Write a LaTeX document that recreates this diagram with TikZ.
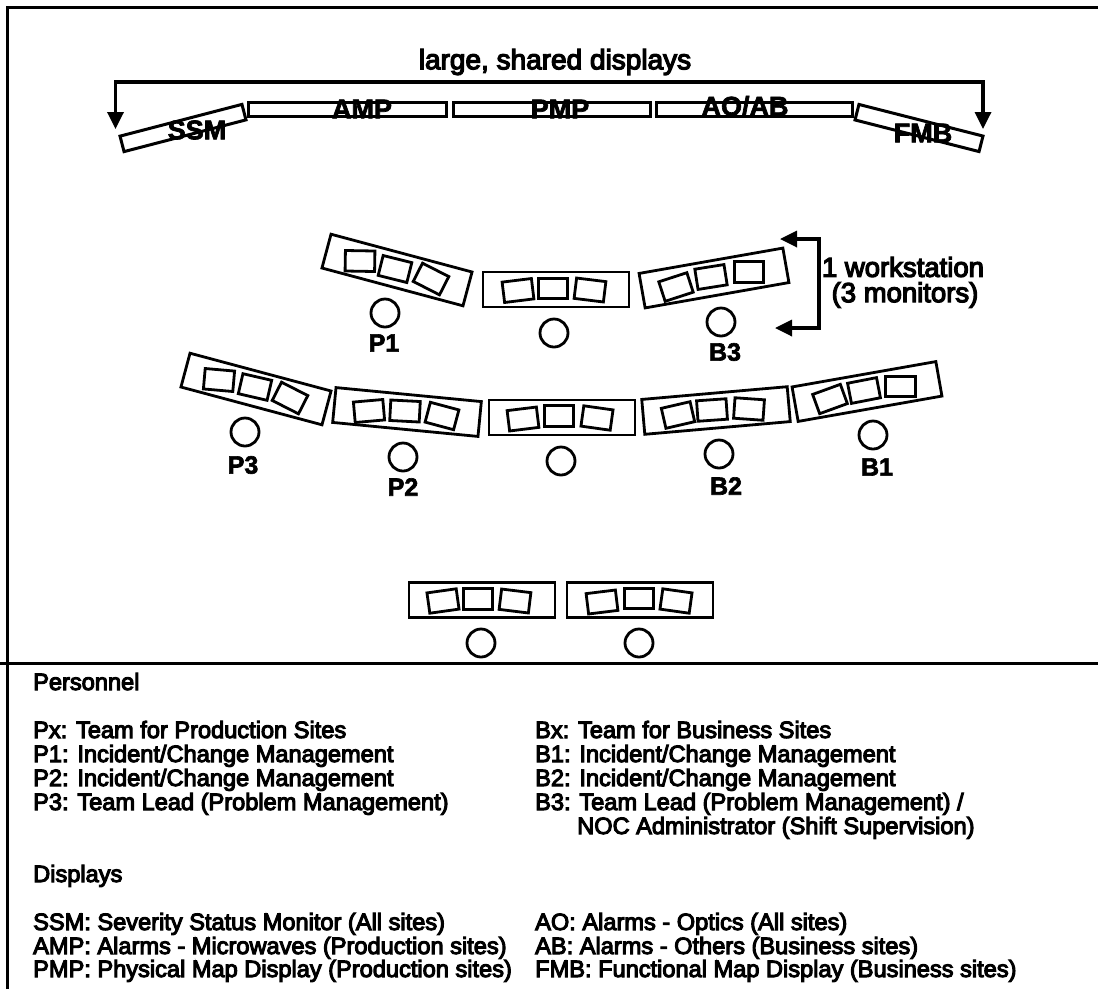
\documentclass[tikz,border=0pt]{standalone}
\usepackage{fontspec}
\setmainfont{Liberation Sans}
\newfontfamily\heavy[FakeBold=4.5]{Liberation Sans}
\newfontfamily\heavyb[UprightFont=* Bold,FakeBold=2.5]{Liberation Sans}
\usetikzlibrary{arrows.meta}
\tikzset{
  frameline/.style={line width=3pt},
  bothline/.style={line width=3.4pt,{Triangle[width=16pt,length=17pt]}-{Triangle[width=16pt,length=17pt]}},
  screen/.style={draw,line width=3pt,inner sep=0pt,outer sep=0pt,minimum height=14pt},
  desk/.style={draw,line width=2.8pt,inner sep=0pt,outer sep=0pt,minimum width=146pt,minimum height=35pt},
  monitor/.style={draw,line width=2.8pt,inner sep=0pt,outer sep=0pt,minimum width=29.5pt,minimum height=20.5pt},
  person/.style={draw,circle,line width=2.8pt,inner sep=0pt,outer sep=0pt,minimum size=28pt},
  seat/.style={inner sep=0pt,font=\fontsize{25}{25}\heavyb},
  screenlabel/.style={inner sep=0pt,font=\fontsize{27}{27}\heavyb},
  title/.style={inner sep=0pt,font=\fontsize{28}{28}\heavy},
  legend/.style={inner sep=0pt,anchor=base west,font=\fontsize{23.6}{24}\heavy}
}
\newcommand{\mon}[4]{\node[monitor,rotate=#4] (#1) at (#2,#3) {};}
\begin{document}
\begin{tikzpicture}[x=1pt,y=-1pt]
\useasboundingbox (0,0) rectangle (1098,989);
% frame
\coordinate (fbl) at (7,989);
\coordinate (ftl) at (7,7);
\coordinate (ftr) at (1098,7);
\coordinate (sl) at (0,663);
\coordinate (sr) at (1098,663);
\draw[frameline] (fbl) -- (ftl) -- (ftr);
\draw[frameline] (sl) -- (sr);
% shared displays
\node[screen,minimum width=198pt] (amp) at (347.5,109.5) {};
\node[screen,minimum width=197pt] (pmp) at (551.5,109.5) {};
\node[screen,minimum width=196pt] (aoab) at (754.5,109.5) {};
\node[screen,minimum width=126pt,minimum height=16pt,rotate=14.6] (ssm) at (183,128) {};
\node[screen,minimum width=128pt,minimum height=16pt,rotate=-14.3] (fmb) at (919,128) {};
\node[screenlabel] (lssm) at (197,130) {SSM};
\node[screenlabel] (lamp) at (362,109) {AMP};
\node[screenlabel] (lpmp) at (560,109) {PMP};
\node[screenlabel] (laoab) at (745,106) {AO/AB};
\node[screenlabel] (lfmb) at (923,133) {FMB};
\node[title] (shared) at (555,62) {large, shared displays};
\coordinate (al) at (115.5,129);
\coordinate (cl) at (115.5,82);
\coordinate (cr) at (983,82);
\coordinate (ar) at (983,129);
\draw[bothline] (al) -- (cl) -- (cr) -- (ar);
% first row
\node[desk,rotate=-15] (dP1) at (397,270) {};
\mon{a1}{360}{261}{-1}\mon{a2}{395}{269}{-14}\mon{a3}{431}{279}{-27}
\node[desk] (dC1) at (556,289.5) {};
\mon{b1}{518}{290.5}{7}\mon{b2}{553}{288.5}{0}\mon{b3}{590}{290}{-7}
\node[desk,rotate=10] (dB3) at (714,278) {};
\mon{c1}{676}{287}{18}\mon{c2}{711}{277}{9}\mon{c3}{749}{272}{0}
\node[person] (pP1) at (385,313) {};
\node[person] (pC1) at (554,333) {};
\node[person] (pB3) at (721,322) {};
\node[seat] (lP1) at (384,343) {P1};
\node[seat] (lB3) at (725,352) {B3};
% second row
\node[desk,rotate=-15] (dP3) at (256,389) {};
\mon{d1}{219}{380}{-5}\mon{d2}{255}{387}{-13}\mon{d3}{290}{398}{-27}
\node[desk,rotate=-5.5] (dP2) at (407,412) {};
\mon{e1}{369}{411}{5}\mon{e2}{405}{411}{-3}\mon{e3}{442}{416}{-15}
\node[desk] (dC2) at (562,417.5) {};
\mon{f1}{523}{419}{7}\mon{f2}{559}{416}{0}\mon{f3}{597}{418}{-8}
\node[desk,rotate=5] (dB2) at (716,410.5) {};
\mon{g1}{678}{415}{13}\mon{g2}{712}{410}{4}\mon{g3}{749}{409}{-4}
\node[desk,rotate=10] (dB1) at (867,391.5) {};
\mon{h1}{830}{399}{20}\mon{h2}{864}{390.5}{11}\mon{h3}{900.5}{386.5}{0}
\node[person] (pP3) at (245,432) {};
\node[person] (pP2) at (403,457) {};
\node[person] (pC2) at (561,461) {};
\node[person] (pB2) at (719,454) {};
\node[person] (pB1) at (873,435) {};
\node[seat] (lP3) at (243,465) {P3};
\node[seat] (lP2) at (403,487) {P2};
\node[seat] (lB2) at (726,486) {B2};
\node[seat] (lB1) at (877,467) {B1};
% bottom row
\node[desk] (dL) at (482,600) {};
\mon{i1}{443}{601}{8}\mon{i2}{478}{599}{0}\mon{i3}{515}{601}{-7}
\node[desk] (dR) at (640,600) {};
\mon{j1}{602}{602}{7}\mon{j2}{639}{598.5}{0}\mon{j3}{676}{601}{-8}
\node[person] (pL) at (481,643) {};
\node[person] (pR) at (639,643) {};
% workstation bracket
\coordinate (wt) at (780,239);
\coordinate (wtc) at (819,239);
\coordinate (wbc) at (819,328);
\coordinate (wb) at (775,328);
\draw[bothline] (wt) -- (wtc) -- (wbc) -- (wb);
\node[title,font=\fontsize{27.5}{27.5}\heavy] (w1) at (903,267) {1 workstation};
\node[title,font=\fontsize{27.5}{27.5}\heavy] (w2) at (905,295) {(3 monitors)};
% legend
\node[legend] (t1) at (33,690) {Personnel};
\node[legend] (t2) at (33,738) {Px: Team for Production Sites};
\node[legend] (t3) at (33,762) {P1: Incident/Change Management};
\node[legend] (t4) at (33,786) {P2: Incident/Change Management};
\node[legend] (t5) at (33,810) {P3: Team Lead (Problem Management)};
\node[legend] (t6) at (33,882) {Displays};
\node[legend] (t7) at (33,930) {SSM: Severity Status Monitor (All sites)};
\node[legend] (t8) at (33,954) {AMP: Alarms - Microwaves (Production sites)};
\node[legend] (t9) at (33,977) {PMP: Physical Map Display (Production sites)};
\node[legend] (u2) at (535,738) {Bx: Team for Business Sites};
\node[legend] (u3) at (535,762) {B1: Incident/Change Management};
\node[legend] (u4) at (535,786) {B2: Incident/Change Management};
\node[legend] (u5) at (535,810) {B3: Team Lead (Problem Management) /};
\node[legend] (u6) at (577,834) {NOC Administrator (Shift Supervision)};
\node[legend] (u7) at (535,930) {AO: Alarms - Optics (All sites)};
\node[legend] (u8) at (535,954) {AB: Alarms - Others (Business sites)};
\node[legend] (u9) at (535,977) {FMB: Functional Map Display (Business sites)};
\end{tikzpicture}
\end{document}
